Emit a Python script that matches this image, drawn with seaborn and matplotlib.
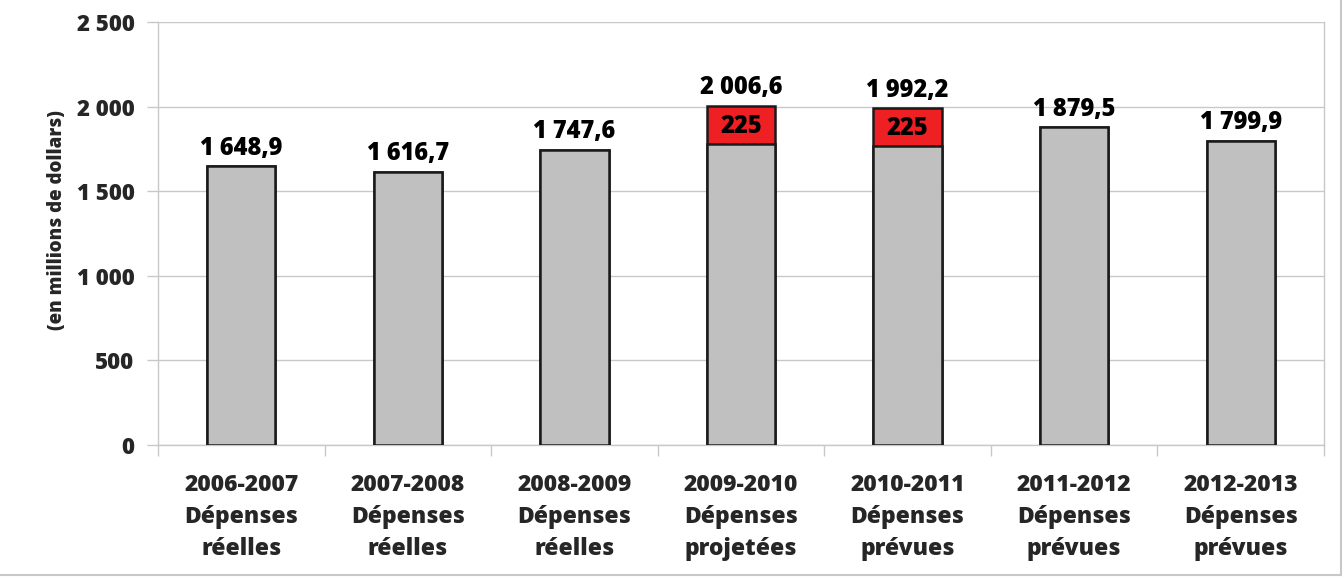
import matplotlib
matplotlib.use("Agg")
import matplotlib.pyplot as plt
from matplotlib.lines import Line2D
import seaborn as sns
import numpy as np

categories = ["2006-2007\nDépenses\nréelles", "2007-2008\nDépenses\nréelles",
              "2008-2009\nDépenses\nréelles", "2009-2010\nDépenses\nprojetées",
              "2010-2011\nDépenses\nprévues", "2011-2012\nDépenses\nprévues",
              "2012-2013\nDépenses\nprévues"]
totals = [1648.9, 1616.7, 1747.6, 2006.6, 1992.2, 1879.5, 1799.9]
extra = [0, 0, 0, 225, 225, 0, 0]
total_labels = ["1 648,9", "1 616,7", "1 747,6", "2 006,6", "1 992,2", "1 879,5", "1 799,9"]
yticks = [0, 500, 1000, 1500, 2000, 2500]
ytick_labels = ["0", "500", "1 000", "1 500", "2 000", "2 500"]

bases = [t - e for t, e in zip(totals, extra)]

sns.set_theme(style="white")
plt.rcParams['font.family'] = ['Open Sans', 'DejaVu Sans']
W = 800
plt.rcParams['font.weight'] = W

fig, ax = plt.subplots(figsize=(13.43, 5.77), dpi=100)
fig.subplots_adjust(left=0.1177, right=0.9858, top=0.9613, bottom=0.2288)

x = list(range(len(categories)))
sns.barplot(x=x, y=totals, color="#ee2024", saturation=1, width=0.41,
            edgecolor="#1a1a1a", linewidth=1.8, ax=ax, zorder=3)
sns.barplot(x=x, y=bases, color="#c0c0c0", saturation=1, width=0.41,
            edgecolor="#1a1a1a", linewidth=1.8, ax=ax, zorder=3)

for i, (t, lab, e) in enumerate(zip(totals, total_labels, extra)):
    ax.annotate(lab, (i, t), xytext=(0, 4), textcoords="offset points",
                ha="center", va="bottom", fontsize=17, fontweight=W, color="black")
    if e > 0:
        ax.text(i, t - e / 2 - 10, f"{e:g}", ha="center", va="center",
                fontsize=17, fontweight=W, color="black", zorder=5)

ax.set_ylim(0, 2500)
ax.set_xlim(-0.5, len(categories) - 0.5)
ax.set_yticks(yticks)
ax.set_yticklabels(ytick_labels, fontsize=16, fontweight=W)
ax.set_xticks(x)
ax.set_xticklabels(categories, fontsize=16.5, fontweight=W, linespacing=1.45)
ax.set_xticks(np.arange(-0.5, len(categories), 1.0), minor=True)
ax.tick_params(axis="x", which="major", length=0, pad=20)
ax.tick_params(axis="x", which="minor", length=8, width=1, color="#c8c8c8", direction="out", bottom=True)
ax.tick_params(axis="y", length=8, width=1, color="#c8c8c8", direction="out", left=True, pad=9)
ax.yaxis.grid(True, color="#c8c8c8", linewidth=1, zorder=0)
ax.xaxis.grid(False)
ax.set_axisbelow(True)
for s in ["left", "bottom", "right", "top"]:
    ax.spines[s].set_visible(True)
    ax.spines[s].set_color("#c8c8c8")
    ax.spines[s].set_linewidth(1)
ax.spines["top"].set_visible(False)
ax.set_ylabel("(en millions de dollars)", fontsize=13.5, fontweight=W, labelpad=14)
ax.yaxis.set_label_coords(-0.078, 0.532)

fig.add_artist(Line2D([0.9985, 0.9985], [0.003, 1], transform=fig.transFigure, color="#c8c8c8", linewidth=1.5))
fig.add_artist(Line2D([0, 0.9985], [0.003, 0.003], transform=fig.transFigure, color="#c8c8c8", linewidth=1.5))

fig.savefig("out.png", dpi=100)
